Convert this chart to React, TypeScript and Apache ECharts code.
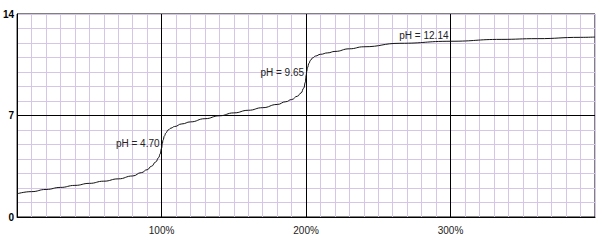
import React, { useEffect, useRef } from "react";
import * as echarts from "echarts";

const titrantPct = [0, 10, 20, 30, 40, 50, 60, 70, 80, 86, 90, 93, 96, 98, 99, 100, 100.5, 101, 102, 103, 104.5, 106.5, 109, 114, 120, 130, 140, 150, 160, 170, 180, 186, 190, 194, 196.5, 198.5, 199.5, 200, 200.5, 201, 202, 203, 204.5, 206.5, 210, 215, 220, 230, 240, 265, 300, 335, 360, 390, 400];
const phValues = [1.6, 1.75, 1.9, 2.04, 2.18, 2.32, 2.47, 2.63, 2.83, 3.06, 3.26, 3.5, 3.8, 4.1, 4.35, 4.75, 5.05, 5.3, 5.6, 5.8, 6.0, 6.13, 6.24, 6.42, 6.56, 6.78, 6.98, 7.18, 7.36, 7.54, 7.76, 7.95, 8.1, 8.33, 8.55, 8.9, 9.3, 9.75, 10.05, 10.3, 10.6, 10.8, 10.97, 11.1, 11.22, 11.32, 11.42, 11.6, 11.74, 11.98, 12.12, 12.25, 12.3, 12.39, 12.41];
const annotPct = [100, 200, 300];
const annotPh = [4.7, 9.65, 12.14];
const xTickLabels = [100, 200, 300];
const yTickLabels = [0, 7, 14];
const majorX = [100, 200, 300];
const majorY = [7];

const FONT = "'Liberation Sans', Arial, sans-serif";
const MINOR = "#d3c6e6";

export default function App() {
  const ref = useRef<HTMLDivElement>(null);
  useEffect(() => {
    if (!ref.current) return;
    const chart = echarts.init(ref.current, null, { renderer: "svg" });
    chart.setOption({
      animation: false,
      backgroundColor: "#ffffff",
      grid: { left: 15, right: 7, top: 14, bottom: 24, show: true, borderColor: "#000", borderWidth: 1 },
      xAxis: {
        type: "value",
        min: 0,
        max: 400,
        interval: 10,
        axisLine: { show: true, lineStyle: { color: "#000", width: 1 } },
        axisTick: { show: false },
        splitLine: { show: true, lineStyle: { color: MINOR, width: 1 } },
        axisLabel: {
          margin: 8,
          color: "#222",
          fontFamily: FONT,
          fontSize: 10,
          formatter: (v: number) => (xTickLabels.includes(v) ? `${v}%` : ""),
        },
      },
      yAxis: {
        type: "value",
        min: 0,
        max: 14,
        interval: 1,
        axisLine: { show: true, lineStyle: { color: "#000", width: 1 } },
        axisTick: { show: false },
        splitLine: { show: true, lineStyle: { color: MINOR, width: 1 } },
        axisLabel: {
          margin: 3,
          color: "#000",
          fontFamily: FONT,
          fontSize: 10,
          fontWeight: "bold",
          formatter: (v: number) => (yTickLabels.includes(v) ? `${v}` : ""),
        },
      },
      series: [
        {
          type: "line",
          data: titrantPct.map((x, i) => [x, phValues[i]]),
          smooth: 0.5,
          smoothMonotone: "x",
          showSymbol: false,
          symbol: "none",
          lineStyle: { color: "#111", width: 1 },
          z: 5,
          markLine: {
            silent: true,
            symbol: "none",
            label: { show: false },
            lineStyle: { color: "#000", width: 1, type: "solid" },
            data: [
              ...majorX.map((v) => ({ xAxis: v })),
              ...majorY.map((v) => ({ yAxis: v })),
            ],
            z: 3,
          },
          markPoint: {
            symbol: "circle",
            symbolSize: 0,
            silent: true,
            label: {
              show: true,
              position: "left",
              distance: 2,
              offset: [0, -5],
              color: "#222",
              fontFamily: FONT,
              fontSize: 10,
              formatter: (p: any) => `pH = ${Number(p.value).toFixed(2)}`,
            },
            data: annotPct.map((x, i) => ({ coord: [x, annotPh[i]], value: annotPh[i] })),
          },
        },
      ],
    });
    return () => chart.dispose();
  }, []);
  return <div ref={ref} style={{ position: "fixed", left: 0, top: 0, width: 602, height: 241 }} />;
}
